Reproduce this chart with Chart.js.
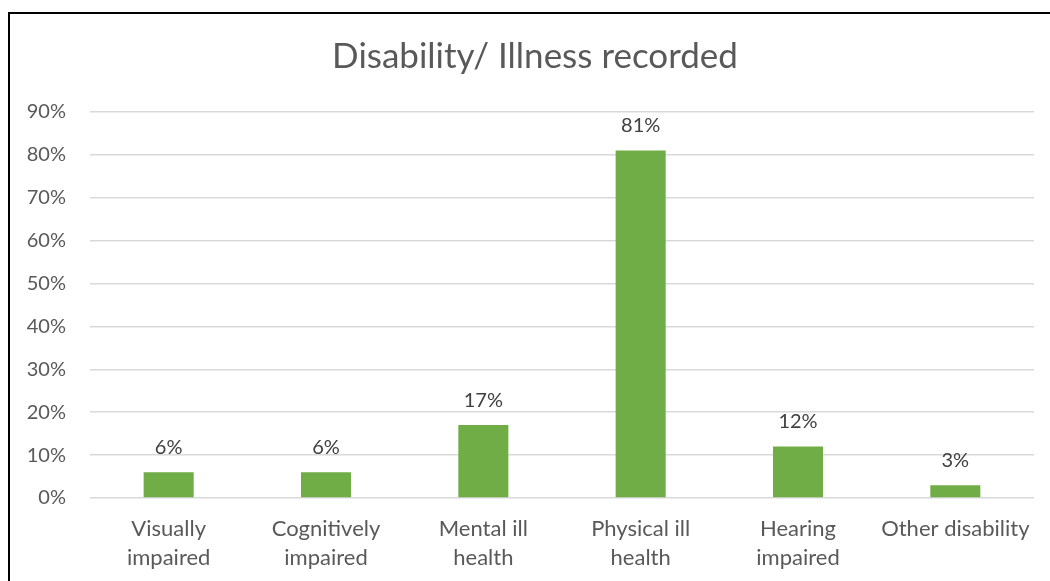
<!DOCTYPE html>
<html>
<head>
<meta charset="utf-8">
<title>Disability/ Illness recorded</title>
<script src="https://cdn.jsdelivr.net/npm/chart.js@4"></script>
<style>
  html, body { margin: 0; padding: 0; background: #fff; }
  #wrap { position: relative; width: 1050px; height: 581px; }
</style>
</head>
<body>
<div id="wrap"><canvas id="disabilityChart" width="1050" height="581"></canvas></div>
<script>
// DATA
const categories = [
    ["Visually", "impaired"],
    ["Cognitively", "impaired"],
    ["Mental ill", "health"],
    ["Physical ill", "health"],
    ["Hearing", "impaired"],
    "Other disability"
];
const percentages = [6, 6, 17, 81, 12, 3];
const yMax = 90;
const yStep = 10;
const chartTitle = "Disability/ Illness recorded";

const FONT = "Lato, 'Open Sans', sans-serif";
const GREY_TEXT = "#595959";

// white background, frame edges and the title
// (title centred on the whole frame, which runs past the right edge)
const framePlugin = {
    id: "frame",
    beforeDraw(chart) {
        const ctx = chart.ctx;
        ctx.save();
        ctx.fillStyle = "#fff";
        ctx.fillRect(0, 0, chart.width, chart.height);
        ctx.strokeStyle = "#000";
        ctx.lineWidth = 2;
        ctx.beginPath();
        ctx.moveTo(9, chart.height);
        ctx.lineTo(9, 13);
        ctx.lineTo(chart.width, 13);
        ctx.stroke();

        ctx.font = "35px " + FONT;
        ctx.fillStyle = GREY_TEXT;
        ctx.textAlign = "center";
        ctx.textBaseline = "middle";
        ctx.fillText(chartTitle, 535, 57);
        ctx.restore();
    }
};

// value labels above each bar
const valueLabels = {
    id: "valueLabels",
    afterDatasetsDraw(chart) {
        const ctx = chart.ctx;
        const meta = chart.getDatasetMeta(0);
        ctx.save();
        ctx.font = "20px " + FONT;
        ctx.fillStyle = "#404040";
        ctx.textAlign = "center";
        ctx.textBaseline = "middle";
        meta.data.forEach((bar, i) => {
            ctx.fillText(percentages[i] + "%", bar.x, bar.y - 25);
        });
        ctx.restore();
    }
};

new Chart(document.getElementById("disabilityChart"), {
    type: "bar",
    data: {
        labels: categories,
        datasets: [{
            data: percentages,
            backgroundColor: "#70ad47",
            borderWidth: 0,
            categoryPercentage: 1,
            barPercentage: 0.318
        }]
    },
    options: {
        responsive: false,
        animation: false,
        layout: { padding: { top: 112, left: 0, right: 16, bottom: 0 } },
        plugins: {
            legend: { display: false },
            tooltip: { enabled: false },
            title: { display: false }
        },
        scales: {
            x: {
                grid: { display: false, drawTicks: false },
                border: { display: false },
                ticks: {
                    color: GREY_TEXT,
                    font: { family: FONT, size: 22, lineHeight: 1.32 },
                    padding: 16,
                    maxRotation: 0,
                    autoSkip: false
                },
                afterFit(scale) { scale.height = 83; }
            },
            y: {
                min: 0,
                max: yMax,
                grid: { color: "#d9d9d9", lineWidth: 1.5, drawTicks: false },
                border: { display: false },
                ticks: {
                    stepSize: yStep,
                    color: GREY_TEXT,
                    font: { family: FONT, size: 20 },
                    padding: 24,
                    callback: v => v + "%"
                },
                afterFit(scale) { scale.width = 90; }
            }
        }
    },
    plugins: [framePlugin, valueLabels]
});
</script>
</body>
</html>
